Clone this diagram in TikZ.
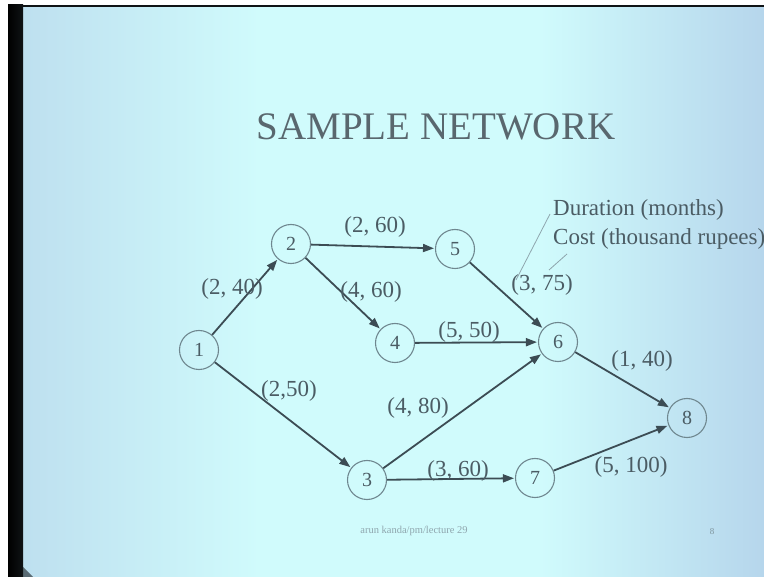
\documentclass[tikz,border=0pt]{standalone}
\usepackage{fontspec}
\setmainfont{Liberation Serif}
\usetikzlibrary{arrows.meta}

\definecolor{slidemid}{HTML}{D0FBFC}
\definecolor{slideleft}{HTML}{BCDDEE}
\definecolor{slideright}{HTML}{B6D6EC}
\definecolor{inkdark}{HTML}{3C4C54}
\definecolor{inktext}{HTML}{4B5C64}
\definecolor{inkcircle}{HTML}{6F878F}
\definecolor{footink}{HTML}{8FA6AE}

\tikzset{
  event/.style={circle, draw=inkcircle, line width=1.1pt, minimum size=39pt,
                inner sep=0pt, text=inktext, font=\fontsize{20}{20}\selectfont},
  activity/.style={draw=inkdark, line width=1.8pt,
                   -{Triangle[length=11pt,width=8pt]}, shorten >=1pt},
  tag/.style={text=inktext, font=\fontsize{23}{23}\selectfont, inner sep=1pt},
  legend/.style={text=inktext, font=\fontsize{23}{23}\selectfont, inner sep=0pt, anchor=west},
  leader/.style={draw=footink, line width=0.8pt}
}

\begin{document}
\begin{tikzpicture}[x=1pt, y=-1pt]
  \useasboundingbox (0,0) rectangle (764,577);

  % slide surface: cyan centre, bluer towards both sides
  \fill[slidemid] (0,0) rectangle (764,577);
  \shade[left color=slideleft, right color=slidemid] (0,0) rectangle (260,577);
  \shade[left color=slidemid, right color=slideright] (540,0) rectangle (764,577);

  % frame of the photographed screen
  \fill[white] (0,0) rectangle (764,5);
  \fill[white] (0,0) rectangle (8,577);
  \fill[black!75!inkdark] (8,5) rectangle (764,7.5);
  \shade[left color=black, right color=black!75!inkdark] (8,5) rectangle (23,577);
  \fill[black!60!inkdark, opacity=0.6] (23,567) -- (33,577) -- (23,577) -- cycle;

  % title
  \node[text=inkdark!85!white, font=\fontsize{39}{39}\selectfont] (title) at (436,127) {SAMPLE NETWORK};

  % events
  \node[event] (n1) at (199,350) {1};
  \node[event] (n2) at (291,244) {2};
  \node[event] (n5) at (455,249) {5};
  \node[event] (n4) at (395,343) {4};
  \node[event] (n6) at (558,342) {6};
  \node[event] (n3) at (367,480) {3};
  \node[event] (n7) at (535,478) {7};
  \node[event] (n8) at (687,418) {8};

  % activities
  \draw[activity] (n1) -- (n2);
  \draw[activity] (n1) -- (n3);
  \draw[activity] (n2) -- (n5);
  \draw[activity] (n2) -- (n4);
  \draw[activity] (n5) -- (n6);
  \draw[activity] (n4) -- (n6);
  \draw[activity] (n3) -- (n6);
  \draw[activity] (n3) -- (n7);
  \draw[activity] (n6) -- (n8);
  \draw[activity] (n7) -- (n8);

  % duration and cost of each activity
  \node[tag] (a12) at (232,289) {(2, 40)};
  \node[tag] (a25) at (375,227) {(2, 60)};
  \node[tag] (a24) at (371,292) {(4, 60)};
  \node[tag] (a13) at (289,391) {(2,50)};
  \node[tag] (a56) at (542,285) {(3, 75)};
  \node[tag] (a46) at (469,332) {(5, 50)};
  \node[tag] (a68) at (642,361) {(1, 40)};
  \node[tag] (a36) at (418,408) {(4, 80)};
  \node[tag] (a37) at (458,471) {(3, 60)};
  \node[tag] (a78) at (631,467) {(5, 100)};

  % legend for the pair of numbers
  \node[legend] (dur) at (553,210) {Duration (months)};
  \node[legend] (cost) at (553,239) {Cost (thousand rupees)};
  \coordinate (durfoot) at (516,280);
  \coordinate (durhead) at (550,214);
  \coordinate (costfoot) at (549,270);
  \coordinate (costhead) at (567,254);
  \draw[leader] (durfoot) -- (durhead);
  \draw[leader] (costfoot) -- (costhead);

  % footer
  \node[text=footink, font=\fontsize{10.5}{10.5}\selectfont] (foot) at (414,531) {arun kanda/pm/lecture 29};
  \node[text=footink!80!inkdark, font=\fontsize{9}{9}\selectfont] (page) at (712,532) {8};
\end{tikzpicture}
\end{document}
